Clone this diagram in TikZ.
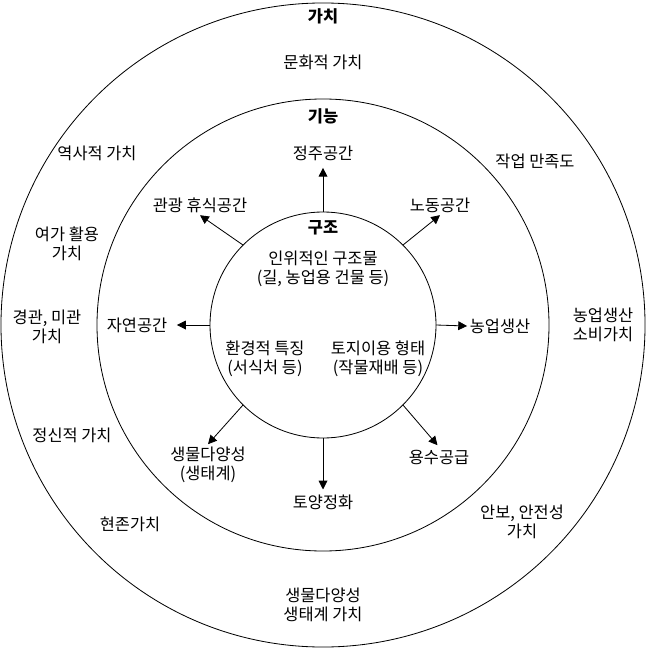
\documentclass[tikz,border=0pt]{standalone}
\usepackage{fontspec}
\setmainfont{Noto Sans CJK KR}
\usetikzlibrary{arrows.meta}

\begin{document}
\begin{tikzpicture}[x=0.03cm, y=-0.03cm, line width=0.7pt,
    font=\fontsize{14}{16.5}\selectfont,
    lbl/.style={align=center, inner sep=2pt},
    arr/.style={-{Triangle[length=7.5pt,width=7.5pt]}}]
            \useasboundingbox (0,0) rectangle (646,648);

            % rings
            \draw (323,325) circle[radius=9.66cm];
            \draw (323,325) circle[radius=6.78cm];
            \node[draw, circle, minimum size=6.78cm, inner sep=0pt, outer sep=0pt] (struct) at (323,325) {};

            % value ring
            \node[lbl, font=\fontsize{14}{16.5}\selectfont\bfseries] (value) at (323,16) {가치};
            \node[lbl] (culture) at (323,62) {문화적 가치};
            \node[lbl] (history) at (97,153) {역사적 가치};
            \node[lbl] (work) at (535,161) {작업 만족도};
            \node[lbl] (leisure) at (67,244) {여가 활용\\가치};
            \node[lbl] (scene) at (47,327) {경관, 미관\\가치};
            \node[lbl] (consume) at (603,325) {농업생산\\소비가치};
            \node[lbl] (mind) at (72,435) {정신적 가치};
            \node[lbl] (exist) at (130,524) {현존가치};
            \node[lbl] (safety) at (522,522) {안보, 안전성\\가치};
            \node[lbl] (ecoval) at (323,605) {생물다양성\\생태계 가치};

            % function ring
            \node[lbl, font=\fontsize{14}{16.5}\selectfont\bfseries] (function) at (323,116) {기능};
            \node[lbl] (settle) at (323,153) {정주공간};
            \node[lbl] (rest) at (200,205) {관광 휴식공간};
            \node[lbl] (labor) at (440,205) {노동공간};
            \node[lbl] (nature) at (137,325) {자연공간};
            \node[lbl] (agri) at (500,326) {농업생산};
            \node[lbl] (bio) at (208,465) {생물다양성\\(생태계)};
            \node[lbl] (water) at (439,457) {용수공급};
            \node[lbl] (soil) at (323,502) {토양정화};

            % structure
            \node[lbl, font=\fontsize{14}{16.5}\selectfont\bfseries] (structure) at (323,228) {구조};
            \node[lbl] (artificial) at (323,269) {인위적인 구조물\\(길, 농업용 건물 등)};
            \node[lbl] (habitat) at (265,359) {환경적 특징\\(서식처 등)};
            \node[lbl] (landuse) at (378,359) {토지이용 형태\\(작물재배 등)};

            \draw[arr, shorten >=4pt] (struct.north) -- (settle.south);
            \draw[arr] (struct.135) -- (rest.south);
            \draw[arr] (struct.45) -- (labor.south);
            \draw[arr, shorten >=6pt] (struct.west) -- (nature.east);
            \draw[arr] (struct.east) -- (agri.west);
            \draw[arr] (struct.-135) -- (bio.north);
            \draw[arr, shorten >=2pt] (struct.-45) -- (water.north);
            \draw[arr, shorten >=2pt] (struct.south) -- (soil.north);
        \end{tikzpicture}
\end{document}
